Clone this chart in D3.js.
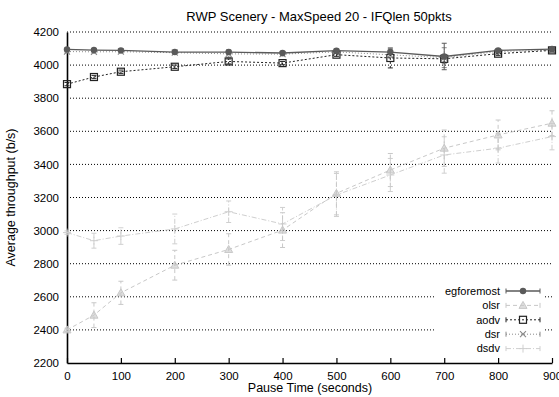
<!DOCTYPE html>
<html>
<head>
<meta charset="utf-8">
<script src="https://cdn.jsdelivr.net/npm/d3@7"></script>
<style>
  body { margin: 0; background: #fff; }
  text { font-family: "Liberation Sans", Arial, sans-serif; }
</style>
</head>
<body>
<div id="chart"></div>
<script>
// data
var pauseTimes = [0, 50, 100, 200, 300, 400, 500, 600, 700, 800, 900];
var yTicks = [2200, 2400, 2600, 2800, 3000, 3200, 3400, 3600, 3800, 4000, 4200];
var xTicks = [0, 100, 200, 300, 400, 500, 600, 700, 800, 900];

var egforemost = [4095, 4091, 4089, 4079, 4079, 4073, 4087, 4079, 4052, 4089, 4097];
var egforemostErr = [8, 8, 8, 8, 12, 10, 10, 12, 80, 8, 8];
var olsr = [2400, 2489, 2624, 2791, 2886, 3003, 3225, 3366, 3498, 3578, 3649];
var olsrErr = [10, 75, 70, 90, 95, 105, 130, 100, 110, 90, 75];
var aodv = [3885, 3928, 3960, 3990, 4022, 4012, 4063, 4043, 4038, 4069, 4089];
var aodvErr = [10, 10, 10, 10, 15, 10, 10, 60, 25, 10, 10];
var dsr = [4082, 4080, 4081, 4075, 4068, 4066, 4080, 4062, 4045, 4082, 4090];
var dsrErr = [8, 8, 8, 8, 20, 10, 10, 15, 60, 8, 8];
var dsdv = [2988, 2939, 2967, 3010, 3114, 3040, 3215, 3336, 3457, 3498, 3568];
var dsdvErr = [10, 45, 50, 90, 65, 100, 130, 100, 110, 90, 80];

var seriesNames = ["egforemost", "olsr", "aodv", "dsr", "dsdv"];

var W = 559, H = 397;
var margin = {top: 32, right: 7, bottom: 34, left: 67};
var width = W - margin.left - margin.right,
    height = H - margin.top - margin.bottom;

var svg = d3.select("#chart").append("svg")
    .attr("width", W).attr("height", H);
var g = svg.append("g")
    .attr("transform", "translate(" + margin.left + "," + margin.top + ")");

var x = d3.scaleLinear().domain([0, 900]).range([0, width]);
var y = d3.scaleLinear().domain([2200, 4200]).range([height, 0]);

// legend box area (grid is hidden behind it)
var legX = 367, legW = 111, legY = 251, legH = 74;

// dotted grid
yTicks.slice(1).forEach(function(t) {
  var yy = y(t);
  var under = yy > legY && yy < legY + legH;
  var segs = under ? [[0, legX], [legX + legW, width]] : [[0, width]];
  segs.forEach(function(s) {
    g.append("line")
      .attr("x1", s[0]).attr("x2", s[1])
      .attr("y1", yy).attr("y2", yy)
      .attr("stroke", "#000").attr("stroke-width", 1)
      .attr("stroke-dasharray", "1,2");
  });
});

// axes
var xAxis = g.append("g")
  .attr("transform", "translate(0," + height + ")")
  .call(d3.axisBottom(x).tickValues(xTicks).tickFormat(d3.format("d"))
    .tickSize(-5).tickPadding(9).tickSizeOuter(0));
var yAxis = g.append("g")
  .call(d3.axisLeft(y).tickValues(yTicks).tickFormat(d3.format("d"))
    .tickSize(0).tickPadding(8).tickSizeOuter(0));
[xAxis, yAxis].forEach(function(a) {
  a.select(".domain").attr("stroke", "#000").attr("stroke-width", 1.6);
  a.selectAll(".tick line").attr("stroke", "#000").attr("stroke-width", 1.2);
  a.selectAll("text").attr("font-size", 11.5).attr("fill", "#000")
    .style("font-family", "'Liberation Sans', Arial, sans-serif");
});

// series styles
var styles = {
  egforemost: {color: "#5a5a5a", dash: null, width: 1.3, marker: "circle"},
  olsr: {color: "#c8c8c8", dash: "4,3", width: 1, marker: "triangle"},
  aodv: {color: "#222", dash: "2,2", width: 1, marker: "square"},
  dsr: {color: "#8a8a8a", dash: "1,2", width: 1, marker: "x"},
  dsdv: {color: "#cfcfcf", dash: "5,2,1,2", width: 1, marker: "plus"}
};
var dataMap = {
  egforemost: [egforemost, egforemostErr],
  olsr: [olsr, olsrErr],
  aodv: [aodv, aodvErr],
  dsr: [dsr, dsrErr],
  dsdv: [dsdv, dsdvErr]
};

function drawMarker(sel, kind, cx, cy, color) {
  if (kind === "circle") {
    sel.append("circle").attr("cx", cx).attr("cy", cy).attr("r", 3.2).attr("fill", color);
  } else if (kind === "triangle") {
    sel.append("path").attr("d", "M" + cx + "," + (cy - 4) + "L" + (cx + 4) + "," + (cy + 3) + "L" + (cx - 4) + "," + (cy + 3) + "Z")
      .attr("fill", color).attr("fill-opacity", 0.6).attr("stroke", color);
  } else if (kind === "square") {
    sel.append("rect").attr("x", cx - 3.5).attr("y", cy - 3.5).attr("width", 7).attr("height", 7)
      .attr("fill", "none").attr("stroke", color).attr("stroke-width", 1.2);
  } else if (kind === "x") {
    sel.append("path").attr("d", "M" + (cx - 3) + "," + (cy - 3) + "L" + (cx + 3) + "," + (cy + 3) + "M" + (cx - 3) + "," + (cy + 3) + "L" + (cx + 3) + "," + (cy - 3))
      .attr("stroke", color).attr("stroke-width", 1.1);
  } else if (kind === "plus") {
    sel.append("path").attr("d", "M" + (cx - 4) + "," + cy + "L" + (cx + 4) + "," + cy + "M" + cx + "," + (cy - 4) + "L" + cx + "," + (cy + 4))
      .attr("stroke", color).attr("stroke-width", 1);
  }
}

// draw back to front
["dsdv", "olsr", "dsr", "aodv", "egforemost"].forEach(function(name) {
  var st = styles[name], vals = dataMap[name][0], errs = dataMap[name][1];
  var sg = g.append("g");
  // error bars
  pauseTimes.forEach(function(t, i) {
    var px = x(t), lo = y(vals[i] - errs[i]), hi = y(vals[i] + errs[i]);
    sg.append("line").attr("x1", px).attr("x2", px).attr("y1", lo).attr("y2", hi)
      .attr("stroke", st.color).attr("stroke-width", 1).attr("stroke-dasharray", st.dash);
    [lo, hi].forEach(function(yy) {
      sg.append("line").attr("x1", px - 2.5).attr("x2", px + 2.5).attr("y1", yy).attr("y2", yy)
        .attr("stroke", st.color).attr("stroke-width", 1);
    });
  });
  // line
  sg.append("path")
    .datum(vals)
    .attr("fill", "none")
    .attr("stroke", st.color)
    .attr("stroke-width", st.width)
    .attr("stroke-dasharray", st.dash)
    .attr("d", d3.line()
      .x(function(d, i) { return x(pauseTimes[i]); })
      .y(function(d) { return y(d); }));
  // markers
  vals.forEach(function(v, i) { drawMarker(sg, st.marker, x(pauseTimes[i]), y(v), st.color); });
});

// legend
var leg = g.append("g");
seriesNames.forEach(function(name, i) {
  var st = styles[name];
  var ly = legY + 8 + i * 14.4;
  var sx1 = legX + 72, sx2 = legX + 106;
  leg.append("text").attr("x", legX + 66).attr("y", ly).attr("dy", "0.35em")
    .attr("text-anchor", "end").attr("font-size", 11).attr("fill", "#000").text(name);
  leg.append("line").attr("x1", sx1).attr("x2", sx2).attr("y1", ly).attr("y2", ly)
    .attr("stroke", st.color).attr("stroke-width", st.width).attr("stroke-dasharray", st.dash);
  [sx1, sx2].forEach(function(sx) {
    leg.append("line").attr("x1", sx).attr("x2", sx).attr("y1", ly - 2.5).attr("y2", ly + 2.5)
      .attr("stroke", st.color).attr("stroke-width", 1);
  });
  drawMarker(leg, st.marker, (sx1 + sx2) / 2, ly, st.color);
});

// title and axis labels
svg.append("text").attr("x", 319).attr("y", 21).attr("text-anchor", "middle")
  .attr("font-size", 13).text("RWP Scenery - MaxSpeed 20 - IFQlen 50pkts");
svg.append("text").attr("x", 310).attr("y", 392).attr("text-anchor", "middle")
  .attr("font-size", 12.5).text("Pause Time (seconds)");
svg.append("text").attr("transform", "translate(15," + (margin.top + height / 2) + ") rotate(-90)")
  .attr("text-anchor", "middle").attr("font-size", 12.5).text("Average throughput (b/s)");
</script>
</body>
</html>
